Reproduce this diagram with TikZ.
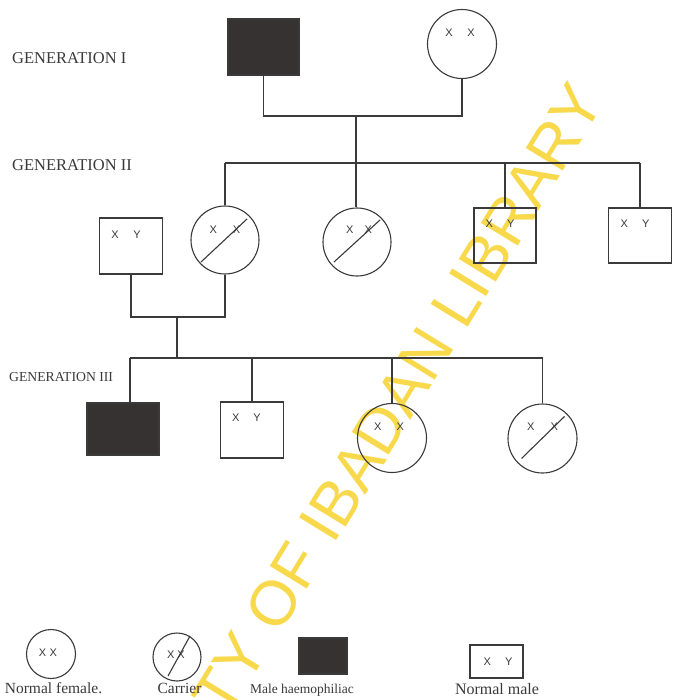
\documentclass[tikz,border=0pt]{standalone}
\usepackage{fontspec}
\setmainfont{Liberation Serif}
\newfontfamily\xsans{Liberation Sans}
\definecolor{ink}{HTML}{3A3A3A}
\definecolor{aff}{HTML}{363232}
\definecolor{wm}{HTML}{F9D94C}
\begin{document}
\begin{tikzpicture}[x=1pt,y=-1pt,
  link/.style={draw=ink, line width=1.1pt},
  mbox/.style={draw=ink, line width=1.1pt, rectangle, inner sep=0pt},
  affbox/.style={mbox, fill=aff},
  fcirc/.style={draw=ink, line width=1.1pt, circle, inner sep=0pt},
  chrom/.style={font=\xsans\fontsize{11}{11}\selectfont, text=ink, inner sep=0pt},
  genlabel/.style={anchor=west, inner sep=0pt, text=ink},
  legtext/.style={inner sep=0pt, text=ink, anchor=base}]
\useasboundingbox (0,0) rectangle (672,700);
\fill[white] (0,0) rectangle (672,700);
% watermark
\node[rotate=58.5, anchor=base east, inner sep=0pt, text=wm,
  font=\xsans\fontsize{63}{63}\selectfont] (wmark) at (606,102) {UNIVERSITY OF IBADAN LIBRARY};
% generation labels
\node[genlabel, font=\fontsize{16.5}{16.5}\selectfont] (g1) at (12,58) {GENERATION I};
\node[genlabel, font=\fontsize{16.5}{16.5}\selectfont] (g2) at (12,165) {GENERATION II};
\node[genlabel, font=\fontsize{13.7}{13.7}\selectfont] (g3) at (9,377) {GENERATION III};
% generation I
\node[affbox, minimum width=71pt, minimum height=56pt] (m1) at (263.5,47) {};
\node[fcirc, minimum size=69pt] (f1) at (462,44) {};
\node[chrom] (f1t) at (460,33) {X\hspace{14.5pt}X};
\coordinate (j1) at (356,116);
\coordinate (j2) at (356,163);
\draw[link] (m1.south) |- (j1) -| (f1.south);
\draw[link] (j1) -- (j2);
% generation II
\node[mbox, minimum width=63pt, minimum height=56pt] (m2a) at (131,246) {};
\node[chrom] (m2at) at (126,235) {X\hspace{14.5pt}Y};
\node[fcirc, minimum size=68pt] (c2a) at (225,240) {};
\node[chrom] (c2at) at (225,230) {X\hspace{16pt}X};
\node[fcirc, minimum size=68pt] (c2b) at (357,242) {};
\node[chrom] (c2bt) at (359,230) {X\hspace{11pt}X};
\node[mbox, minimum width=62pt, minimum height=55pt] (m2c) at (505,235.5) {};
\node[chrom] (m2ct) at (500,224) {X\hspace{14pt}Y};
\node[mbox, minimum width=63pt, minimum height=55pt] (m2d) at (640,235.5) {};
\node[chrom] (m2dt) at (635,224) {X\hspace{14pt}Y};
\draw[link] (c2a.north |- j2) -- (m2d.north |- j2);
\draw[link] (c2a.north) -- (c2a.north |- j2);
\draw[link] (j2) -- (j2 |- c2b.north);
\draw[link] (m2c.north) -- (m2c.north |- j2);
\draw[link] (m2d.north) -- (m2d.north |- j2);
\draw[link] ([shift={(-24,22)}]c2a.center) -- ([shift={(22,-21)}]c2a.center);
\draw[link] ([shift={(-23,20)}]c2b.center) -- ([shift={(23,-22)}]c2b.center);
% marriage II
\coordinate (j3) at (177,317);
\coordinate (j4) at (177,358);
\draw[link] (m2a.south) |- (j3) -| (c2a.south);
\draw[link] (j3) -- (j4);
% generation III
\node[affbox, minimum width=72pt, minimum height=52pt] (m3a) at (123,429) {};
\node[mbox, minimum width=63pt, minimum height=56pt] (m3b) at (252,430) {};
\node[chrom] (m3bt) at (246.5,418) {X\hspace{14pt}Y};
\node[fcirc, minimum size=69pt] (f3c) at (392,438) {};
\node[chrom] (f3ct) at (389,427) {X\hspace{15pt}X};
\node[fcirc, minimum size=69pt] (c3d) at (542.5,438.5) {};
\node[chrom] (c3dt) at (542.5,427) {X\hspace{16pt}X};
\coordinate (d3a) at (130,358);
\draw[link] (d3a) -- (c3d.north |- j4);
\draw[link] (d3a) -- (d3a |- m3a.north);
\draw[link] (m3b.north) -- (m3b.north |- j4);
\draw[link] (f3c.north) -- (f3c.north |- j4);
\draw[link] (c3d.north) -- (c3d.north |- j4);
\draw[link] ([shift={(-21,20)}]c3d.center) -- ([shift={(22,-22)}]c3d.center);
% legend
\node[fcirc, minimum size=49pt] (lf) at (51,654) {};
\node[chrom] (lft) at (48,653) {X\hspace{3.5pt}X};
\node[fcirc, minimum size=48pt] (lc) at (177,657) {};
\node[chrom] (lct) at (176,655) {X\hspace{3pt}X};
\draw[link] ([shift={(-9,19)}]lc.center) -- ([shift={(13,-21)}]lc.center);
\node[affbox, minimum width=48pt, minimum height=36pt] (lm) at (323,656) {};
\node[mbox, minimum width=53pt, minimum height=33pt] (ln) at (496.5,661.5) {};
\node[chrom] (lnt) at (498,662) {X\hspace{14pt}Y};
\node[legtext, font=\fontsize{15.5}{15.5}\selectfont] (lft2) at (53.5,693) {Normal female.};
\node[legtext, font=\fontsize{15.5}{15.5}\selectfont] (lct2) at (179.5,693) {Carrier};
\node[legtext, font=\fontsize{13.5}{13.5}\selectfont] (lmt2) at (302,693) {Male haemophiliac};
\node[legtext, font=\fontsize{16}{16}\selectfont] (lnt2) at (497,694) {Normal male};
\end{tikzpicture}
\end{document}
